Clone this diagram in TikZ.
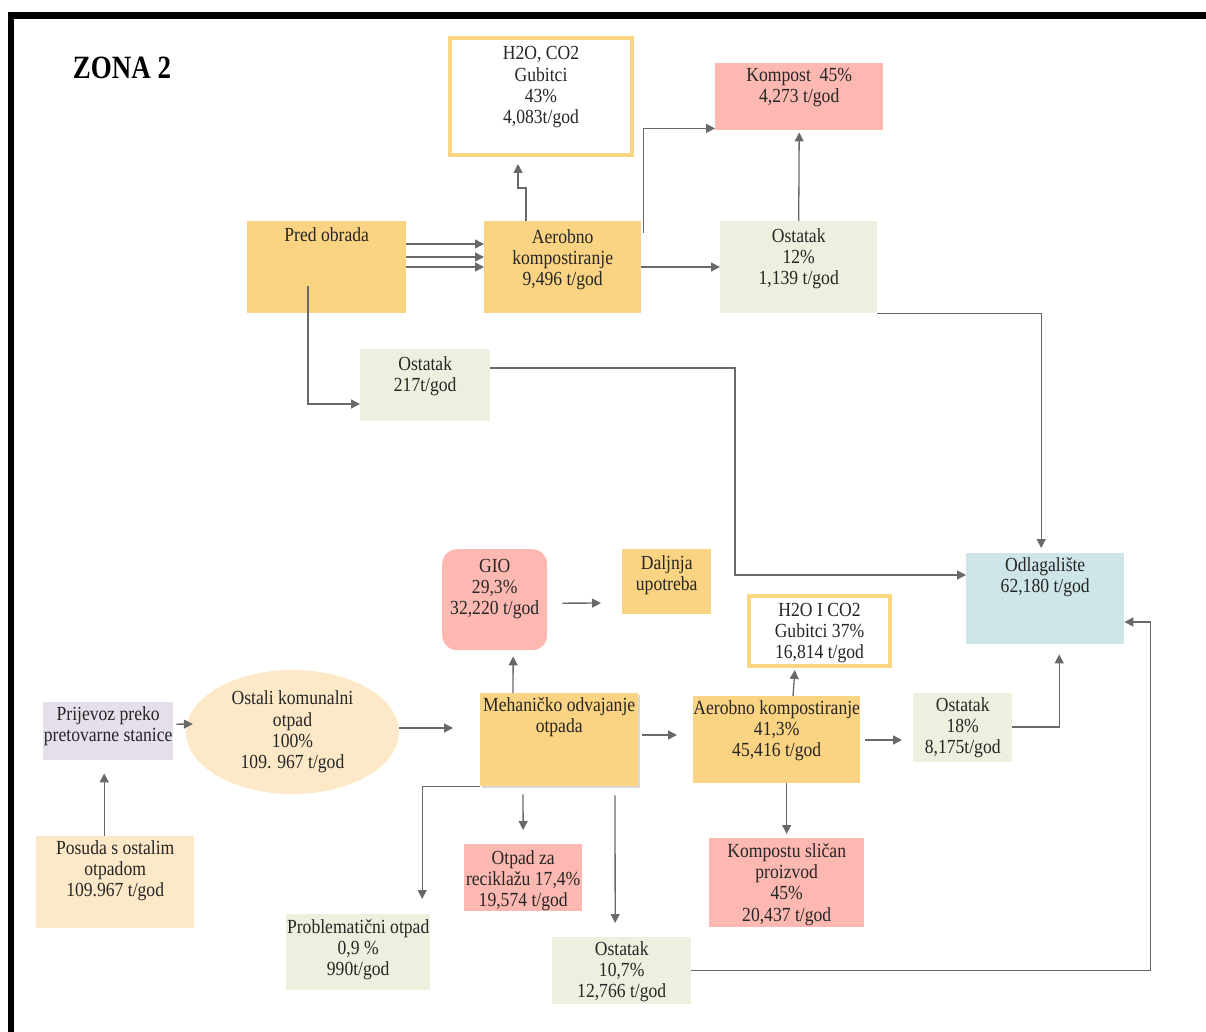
\documentclass[tikz,border=0pt]{standalone}
\usepackage{fontspec}
\setmainfont{Liberation Serif}[FakeStretch=0.88]
\newfontfamily\zonafont{Liberation Serif}[FakeStretch=0.83]
\usetikzlibrary{arrows.meta,shapes.geometric,shadows}
\definecolor{boxorange}{RGB}{250,211,131}
\definecolor{boxsalmon}{RGB}{253,185,177}
\definecolor{boxgreen}{RGB}{235,241,222}
\definecolor{boxblue}{RGB}{206,230,232}
\definecolor{boxlilac}{RGB}{229,223,236}
\definecolor{boxpeach}{RGB}{253,233,199}
\definecolor{lossborder}{RGB}{250,213,130}
\definecolor{linegray}{RGB}{105,105,105}
\tikzset{
  every node/.style={font=\fontsize{20}{21.3}\selectfont, align=center, text=black!85},
  flowbox/.style={anchor=north west, inner xsep=0pt, inner ysep=0pt},
  lossbox/.style={flowbox, draw=lossborder, line width=4pt, fill=white},
  arrow/.style={-{Triangle[length=9pt,width=9pt]}, draw=linegray, line width=1.3pt},
  frameline/.style={line width=6.5pt, draw=black}
}
\begin{document}
\begin{tikzpicture}[x=1pt, y=-1pt]
\useasboundingbox (0,0) rectangle (1206,1032);

%% ===========================================================================
%% Frame and title
%% ===========================================================================
\draw[frameline] (1206,15.5) -- (11,15.5) -- (11,1032);
\node[font=\zonafont\fontsize{32.5}{36}\selectfont\bfseries, text=black] (zona) at (122,68) {ZONA 2};

%% ===========================================================================
%% Upper branch: pre-treatment and composting
%% ===========================================================================
\node[flowbox, fill=boxorange, minimum width=159pt, text height=20pt, text depth=72pt] (pred) at (247,221) {Pred obrada};
\node[flowbox, fill=boxorange, minimum width=157pt, text height=64.6pt, text depth=27.4pt] (aer1) at (484,221) {Aerobno\\kompostiranje\\9,496 t/god};
\node[flowbox, fill=boxgreen, minimum width=157pt, text height=63.6pt, text depth=28.4pt] (ost12) at (720,221) {Ostatak\\12\%\\1,139 t/god};
\node[lossbox, minimum width=182pt, text height=85.9pt, text depth=31.1pt] (h2o1) at (448,36) {H2O, CO2\\Gubitci\\43\%\\4,083t/god};
\node[flowbox, fill=boxsalmon, minimum width=168pt, text height=39.3pt, text depth=27.7pt] (kompost1) at (715,63) {Kompost\ \ 45\%\\4,273 t/god};
\node[flowbox, fill=boxgreen, minimum width=130pt, text height=42.3pt, text depth=29.7pt] (ost217) at (360,349) {Ostatak\\217t/god};

% pre-treatment to composting
\draw[arrow] ([yshift=-23pt]pred.north east) -- ([yshift=-23pt]aer1.north west);
\draw[arrow] ([yshift=-36pt]pred.north east) -- ([yshift=-36pt]aer1.north west);
\draw[arrow] ([yshift=-46pt]pred.north east) -- ([yshift=-46pt]aer1.north west);

% composting outputs
\draw[arrow, shorten >=7pt] ([xshift=42pt]aer1.north west) -- ++(0,-33) -| ([xshift=-23pt]h2o1.south);
\draw[arrow] ([shift={(2pt,-12pt)}]aer1.north east) |- ([yshift=2pt]kompost1.south west);
\draw[arrow] ([yshift=-46pt]aer1.north east) -- ([yshift=-46pt]ost12.north west);
\draw[arrow, shorten >=2pt] (ost12.north) -- (kompost1.south);
\draw[arrow] ([shift={(61pt,-65pt)}]pred.north west) |- ([yshift=-55pt]ost217.north west);

%% ===========================================================================
%% Lower branch: mechanical separation
%% ===========================================================================
\node[flowbox, fill=boxpeach, minimum width=158pt, text height=60.6pt, text depth=31.4pt] (posuda) at (36,836) {Posuda s ostalim\\otpadom\\109.967 t/god};
\node[flowbox, fill=boxlilac, minimum width=130pt, text height=39.3pt, text depth=18.7pt] (prijevoz) at (43,702) {Prijevoz preko\\pretovarne stanice};
\node[ellipse, fill=boxpeach, inner sep=0pt, minimum width=213pt, minimum height=124pt] (ostali) at (292.5,732) {Ostali komunalni\\otpad\\100\%\\109. 967 t/god};
\node[flowbox, fill=boxorange, minimum width=158pt, text height=39.3pt, text depth=53.7pt,
      drop shadow={shadow xshift=2pt, shadow yshift=-2pt, opacity=0.3, fill=black!50}] (meh) at (480,693) {Mehaničko odvajanje\\otpada};
\node[flowbox, fill=boxsalmon, rounded corners=15pt, minimum width=105pt, text height=65.6pt, text depth=35.4pt] (gio) at (442,549) {GIO\\29,3\%\\32,220 t/god};
\node[flowbox, fill=boxorange, minimum width=89pt, text height=41.3pt, text depth=23.7pt] (daljnja) at (622,549) {Daljnja\\upotreba};
\node[flowbox, fill=boxorange, minimum width=167pt, text height=60.6pt, text depth=26.4pt] (aer2) at (693,696) {Aerobno kompostiranje\\41,3\%\\45,416 t/god};
\node[lossbox, minimum width=141pt, text height=62.6pt, text depth=7.4pt] (h2o2) at (747,594) {H2O I CO2\\Gubitci 37\%\\16,814 t/god};
\node[flowbox, fill=boxgreen, minimum width=99pt, text height=60.6pt, text depth=8.4pt] (ost18) at (913,693) {Ostatak\\18\%\\8,175t/god};
\node[flowbox, fill=boxsalmon, minimum width=155pt, text height=82.9pt, text depth=6.1pt] (kompostu) at (709,838) {Kompostu sličan\\proizvod\\45\%\\20,437 t/god};
\node[flowbox, fill=boxsalmon, minimum width=118pt, text height=62.6pt, text depth=4.4pt] (otpadza) at (464,844) {Otpad za\\reciklažu 17,4\%\\19,574 t/god};
\node[flowbox, fill=boxgreen, minimum width=144pt, text height=61.6pt, text depth=14.4pt] (prob) at (286,914) {Problematični otpad\\0,9 \%\\990t/god};
\node[flowbox, fill=boxgreen, minimum width=139pt, text height=60.6pt, text depth=6.4pt] (ost107) at (552,937) {Ostatak\\10,7\%\\12,766 t/god};
\node[flowbox, fill=boxblue, minimum width=158pt, text height=39.3pt, text depth=51.7pt] (odl) at (966,553) {Odlagalište\\62,180 t/god};

% collection and transport
\draw[arrow, shorten >=13pt] ([xshift=-11pt]posuda.north) -- ([xshift=-4pt]prijevoz.south);
\draw[arrow, shorten <=3pt] ([yshift=7pt]prijevoz.east) -- ([shift={(7pt,8pt)}]ostali.west);
\draw[arrow, shorten >=27pt] ([yshift=4pt]ostali.east) -- ([yshift=-35pt]meh.north west);

% separation outputs
\draw[arrow, shorten >=6pt] ([xshift=33pt]meh.north west) -- ([xshift=18.5pt]gio.south);
\draw[arrow, shorten <=15pt, shorten >=21pt] ([yshift=-3.5pt]gio.east) -- ([yshift=-54pt]daljnja.north west);
\draw[arrow, shorten <=4pt, shorten >=16pt] ([yshift=-42pt]meh.north east) -- ([yshift=-39pt]aer2.north west);
\draw[arrow, shorten >=15pt] (meh.south west) -| ([xshift=64pt]prob.north);
\draw[arrow, shorten <=8pt, shorten >=14pt] ([xshift=43pt]meh.south west) -- (otpadza.north);
\draw[arrow, shorten <=9pt, shorten >=14pt] ([xshift=135pt]meh.south west) -- ([xshift=-6.5pt]ost107.north);

% composting outputs
\draw[arrow, shorten >=2pt] ([xshift=100pt]aer2.north west) -- ([xshift=-24.5pt]h2o2.south);
\draw[arrow, shorten <=5pt, shorten >=11pt] ([yshift=-44pt]aer2.north east) -- ([yshift=-47pt]ost18.north west);
\draw[arrow, shorten >=4pt] ([xshift=10pt]aer2.south) -- (kompostu.north);

%% ===========================================================================
%% Residues to landfill
%% ===========================================================================
\draw[arrow, shorten >=5pt] (ost12.south east) -| ([xshift=-4pt]odl.north);
\draw[arrow] ([yshift=-19pt]ost217.north east) -| ([shift={(-231pt,-22pt)}]odl.north west) -- ([yshift=-22pt]odl.north west);
\draw[arrow, shorten >=10pt] ([yshift=-34pt]ost18.north east) -| ([xshift=14pt]odl.south);
\draw[arrow] (ost107.east) -| ([shift={(26pt,-69pt)}]odl.north east) -- ([yshift=-69pt]odl.north east);

\end{tikzpicture}
\end{document}
